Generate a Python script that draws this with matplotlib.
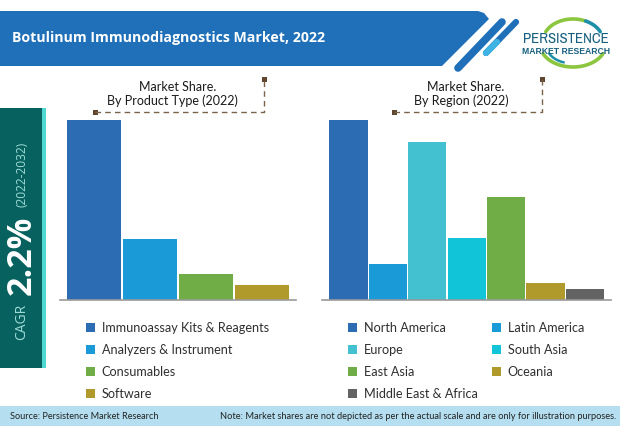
import matplotlib
matplotlib.use("Agg")
import matplotlib.pyplot as plt
import matplotlib.patches as mp
from matplotlib import font_manager as fm
import numpy as np

W, H = 620, 427
title = "Botulinum Immunodiagnostics Market, 2022"
product_types = ["Immunoassay Kits & Reagents", "Analyzers & Instrument", "Consumables", "Software"]
product_values = [100, 33.5, 14, 8]
product_colors = ["#2b6cb3", "#1a9ad6", "#70ad47", "#b09a2c"]
regions = ["North America", "Latin America", "Europe", "South Asia", "East Asia", "Oceania", "Middle East & Africa"]
region_values = [100, 20, 88, 34, 57, 9, 6]
region_colors = ["#2b6cb3", "#1a9ad6", "#43c1d0", "#12c4d8", "#70ad47", "#b09a2c", "#636363"]

plt.rcParams["font.family"] = ["Lato", "DejaVu Sans"]
fig = plt.figure(figsize=(W / 100, H / 100), dpi=100, facecolor="white")
bg = fig.add_axes([0, 0, 1, 1])
bg.set_xlim(0, W); bg.set_ylim(H - 1, -1); bg.axis("off")

# Header banner
bg.add_patch(mp.Polygon([(0, 11), (478, 11), (484, 13), (489, 19), (442, 66), (0, 66)], fc="#1f70b8", ec="none"))
bg.plot([458, 502], [68, 22], color="#1f70b8", lw=5.5, solid_capstyle="round")
bg.plot([486, 516], [53, 22], color="#1f70b8", lw=4.5, solid_capstyle="round")
bg.plot([486, 497], [53, 42], color="#3fb4e4", lw=4.5, solid_capstyle="round")
bg.text(12, 37, title, color="white", fontsize=10.15, fontweight="bold", family=["Open Sans", "DejaVu Sans"], va="center", ha="left")

# Logo
def arc(cx, cy, rx, ry, a0, a1, col, lw):
    t = np.radians(np.linspace(a0, a1, 50))
    bg.plot(cx + rx * np.cos(t), cy + ry * np.sin(t), color=col, lw=lw, solid_capstyle="round")

arc(573, 41, 30, 22, 205, 295, "#8cc63f", 2.6)
arc(573, 41, 30, 22, 295, 335, "#1d8fa8", 2.6)
arc(573, 44, 33, 23, 25, 155, "#8cc63f", 2.6)
arc(570, 44, 24, 19, 105, 150, "#1d8fa8", 1.8)

def fit_text(x, y, s, target, size, **kw):
    t = bg.text(x, y, s, fontsize=size, va="center", ha="center", **kw)
    w = t.get_window_extent(fig.canvas.get_renderer()).width
    t.set_fontsize(size * target / w)
    return t

names = sorted({f.name for f in fm.fontManager.ttflist})
narrow = [n for n in names if "narrow" in n.lower() or "condensed" in n.lower()]
logo_family = narrow[:1] + ["Liberation Sans", "DejaVu Sans"]
fit_text(566, 38, "PERSISTENCE", 86, 12, color="#17607f", family=logo_family)
fit_text(566, 50.5, "MARKET RESEARCH", 88, 6, color="#17607f", family=["Liberation Sans", "DejaVu Sans"], fontweight="bold")

# Chart headings with dashed brackets
def bracket(x0, x1, y0=79, y1=112):
    bg.plot([x0, x1, x1], [y1, y1, y0], color="#7a6248", lw=1, ls=(0, (4, 3)))
    bg.add_patch(mp.Rectangle((x0 - 2.5, y1 - 2.5), 5, 5, fc="#5f4630", ec="none"))
    bg.add_patch(mp.Rectangle((x1 - 2.5, y0 - 2.5), 5, 5, fc="#5f4630", ec="none"))

bracket(95, 264)
bracket(394, 542)
for x, y, s in [(178, 86, "Market Share."), (172.5, 99.5, "By Product Type (2022)"),
                (466, 86, "Market Share."), (461, 99.5, "By Region (2022)")]:
    bg.text(x, y, s, fontsize=9.0, color="#1a1a1a", ha="center", va="center")

# CAGR side panel
bg.add_patch(mp.Rectangle((0, 108), 42, 260, fc="#07625f", ec="none"))
bg.add_patch(mp.Rectangle((42, 108), 3.5, 260, fc="#4fd8d2", ec="none"))
bg.text(22, 321, "CAGR", rotation=90, color="#9fdcd8", fontsize=10, family=["Open Sans", "DejaVu Sans"], ha="center", va="center")
bg.text(22, 254, "2.2%", rotation=90, color="white", fontsize=24.5, fontweight="bold", family=["Open Sans", "DejaVu Sans"], ha="center", va="center")
bg.text(22, 173, "(2022-2032)", rotation=90, color="#9fdcd8", fontsize=8.6, family=["Open Sans", "DejaVu Sans"], ha="center", va="center")

# Bars
def bar_axes(x0, x1, values, colors, width):
    ax = fig.add_axes([x0 / W, 1 - 300.5 / H, (x1 - x0) / W, (300.5 - 121) / H])
    ax.patch.set_alpha(0)
    ax.bar(np.arange(len(values)), values, width=width, color=colors, linewidth=0)
    ax.set_ylim(0, 100)
    ax.set_yticks([]); ax.set_xticks([])
    for s in ["top", "left", "right"]:
        ax.spines[s].set_visible(False)
    ax.spines["bottom"].set_color("#9a9a9a")
    ax.spines["bottom"].set_linewidth(1.2)
    return ax

# axis limits chosen so bar slots fall at the reference positions
axl = bar_axes(60, 296, product_values, product_colors, 0.97)
axl.set_xlim(-0.607, 3.607)
axr = bar_axes(322, 611, region_values, region_colors, 0.97)
axr.set_xlim(-0.6726, 6.662)

# Legends
def legend(items, colors, x, ys):
    for name, col, y in zip(items, colors, ys):
        bg.add_patch(mp.Rectangle((x, y - 4.5), 9, 9, fc=col, ec="none"))
        bg.text(x + 15.5, y, name, fontsize=9.1, color="#2f2f2f", ha="left", va="center")

rows = [327, 349, 371, 393]
legend(product_types, product_colors, 86, rows)
legend(regions[0::2], region_colors[0::2], 348, rows)
legend(regions[1::2], region_colors[1::2], 492, rows[:3])

# Footer
bg.add_patch(mp.Rectangle((0, 405.5), W, 22, fc="#b5dff0", ec="none"))
bg.text(10, 415.5, "Source: Persistence Market Research", fontsize=6.6, color="#222222", ha="left", va="center")
bg.text(616, 415.5, "Note: Market shares are not depicted as per the actual scale and are only for illustration purposes.",
        fontsize=6.7, color="#222222", ha="right", va="center")

fig.savefig("out.png", dpi=100)
